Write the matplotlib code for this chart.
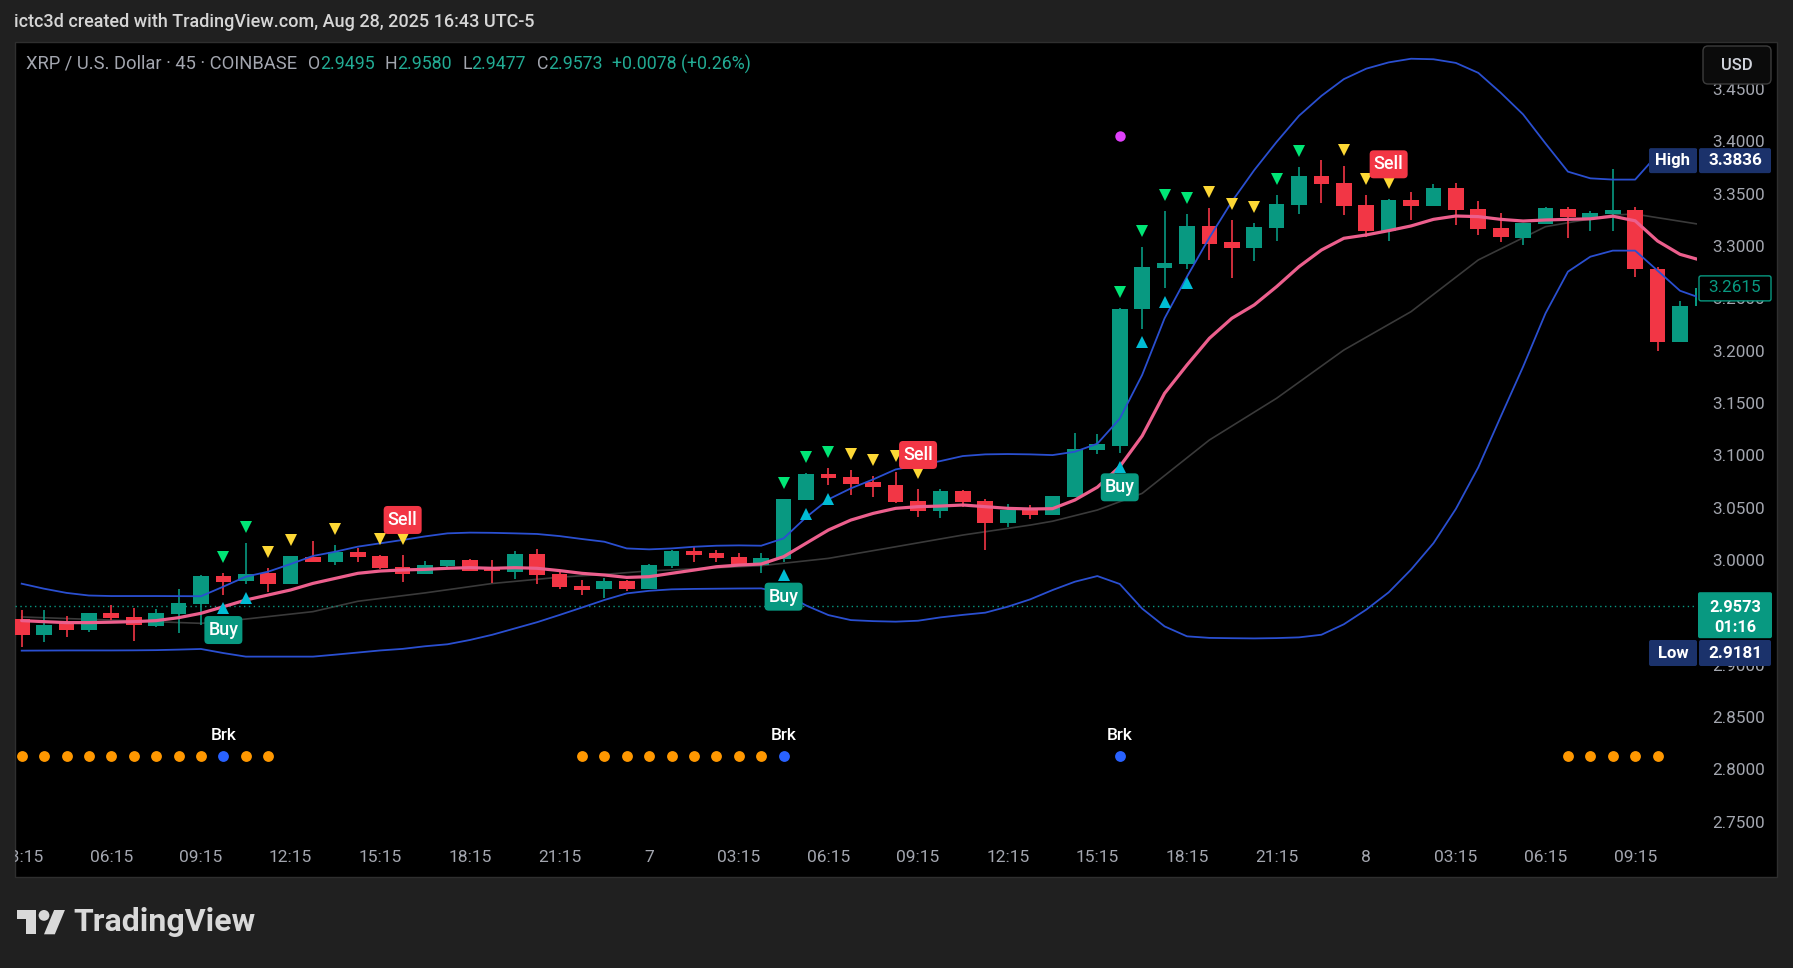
import matplotlib
matplotlib.use("Agg")
import matplotlib.pyplot as plt
from matplotlib.patches import Rectangle, FancyBboxPatch, Polygon, Ellipse
from matplotlib.transforms import IdentityTransform, blended_transform_factory
import numpy as np

# ---------------- data ----------------
opens = [2.9447, 2.9301, 2.9425, 2.9349, 2.9508, 2.9470, 2.9387, 2.9502, 2.9597, 2.9862,
         2.9817, 2.9890, 2.9788, 3.0043, 2.9998, 3.0091, 3.0053, 2.9948, 2.9884, 2.9957,
         3.0014, 2.9941, 2.9903, 3.0072, 2.9881, 2.9766, 2.9734, 2.9814, 2.9740, 2.9960,
         3.0100, 3.0081, 3.0043, 2.9967, 3.0024, 3.0591, 3.0836, 3.0807, 3.0763, 3.0731,
         3.0578, 3.0485, 3.0674, 3.0578, 3.0371, 3.0505, 3.0447, 3.0620, 3.1065, 3.1107,
         3.2413, 3.2808, 3.2843, 3.3207, 3.3054, 3.3000, 3.3191, 3.3407, 3.3684, 3.3618,
         3.3407, 3.3162, 3.3455, 3.3401, 3.3570, 3.3369, 3.3187, 3.3092, 3.3226, 3.3369,
         3.3283, 3.3321, 3.3359, 3.2798, 3.2102, 3.2439]
highs = [2.9537, 2.9537, 2.9479, 2.9511, 2.9581, 2.9559, 2.9546, 2.9737, 2.9871, 2.9890,
         3.0177, 2.9938, 3.0056, 3.0196, 3.0158, 3.0126, 3.0062, 3.0062, 3.0008, 3.0014,
         3.0020, 3.0014, 3.0100, 3.0120, 2.9903, 2.9823, 2.9845, 2.9823, 2.9976, 3.0110,
         3.0151, 3.0110, 3.0078, 3.0081, 3.0597, 3.0849, 3.0897, 3.0874, 3.0817, 3.0855,
         3.0693, 3.0690, 3.0683, 3.0597, 3.0546, 3.0540, 3.0626, 3.1231, 3.1221, 3.2420,
         3.3006, 3.3350, 3.3321, 3.3382, 3.3264, 3.3235, 3.3503, 3.3774, 3.3836, 3.3780,
         3.3503, 3.3465, 3.3531, 3.3608, 3.3618, 3.3445, 3.3331, 3.3238, 3.3388, 3.3388,
         3.3350, 3.3755, 3.3388, 3.2813, 3.2491, 3.2650]
lows = [2.9181, 2.9234, 2.9282, 2.9330, 2.9441, 2.9244, 2.9377, 2.9320, 2.9396, 2.9683,
        2.9788, 2.9709, 2.9785, 2.9995, 2.9967, 2.9998, 2.9925, 2.9807, 2.9881, 2.9951,
        2.9910, 2.9798, 2.9830, 2.9788, 2.9740, 2.9683, 2.9648, 2.9721, 2.9734, 2.9941,
        2.9998, 2.9998, 2.9967, 2.9893, 2.9998, 3.0588, 3.0731, 3.0635, 3.0616, 3.0562,
        3.0428, 3.0419, 3.0524, 3.0113, 3.0333, 3.0406, 3.0444, 3.0613, 3.1027, 3.1040,
        3.2222, 3.2614, 3.2796, 3.2885, 3.2713, 3.2875, 3.3066, 3.3324, 3.3430, 3.3312,
        3.3098, 3.3066, 3.3264, 3.3398, 3.3216, 3.3121, 3.3054, 3.3025, 3.3222, 3.3092,
        3.3159, 3.3159, 3.2722, 3.2015, 3.2102, 3.2430]
closes = [2.9301, 2.9393, 2.9349, 2.9508, 2.9463, 2.9393, 2.9508, 2.9603, 2.9862, 2.9807,
          2.9877, 2.9788, 3.0053, 2.9998, 3.0091, 3.0046, 2.9941, 2.9884, 2.9967, 3.0014,
          2.9913, 2.9913, 3.0072, 2.9871, 2.9760, 2.9731, 2.9814, 2.9740, 2.9967, 3.0100,
          3.0065, 3.0037, 2.9976, 3.0033, 3.0597, 3.0836, 3.0798, 3.0744, 3.0712, 3.0572,
          3.0485, 3.0674, 3.0572, 3.0371, 3.0495, 3.0447, 3.0626, 3.1072, 3.1123, 3.2413,
          3.2815, 3.2853, 3.3207, 3.3038, 3.3000, 3.3197, 3.3417, 3.3684, 3.3611, 3.3401,
          3.3162, 3.3455, 3.3401, 3.3570, 3.3359, 3.3178, 3.3101, 3.3235, 3.3379, 3.3293,
          3.3331, 3.3359, 3.2796, 3.2102, 3.2439, 3.2615]

fast_ma = [2.9435, 2.9425, 2.9416, 2.9416, 2.9420, 2.9425, 2.9435, 2.9463, 2.9505, 2.9568,
           2.9632, 2.9680, 2.9728, 2.9791, 2.9839, 2.9887, 2.9909, 2.9919, 2.9925, 2.9935,
           2.9941, 2.9935, 2.9941, 2.9935, 2.9913, 2.9887, 2.9871, 2.9848, 2.9855, 2.9887,
           2.9918, 2.9950, 2.9966, 2.9976, 3.0046, 3.0174, 3.0301, 3.0396, 3.0460, 3.0508,
           3.0524, 3.0530, 3.0540, 3.0524, 3.0508, 3.0502, 3.0505, 3.0588, 3.0710, 3.0907,
           3.1200, 3.1607, 3.1878, 3.2133, 3.2324, 3.2452, 3.2627, 3.2818, 3.2977, 3.3089,
           3.3121, 3.3162, 3.3207, 3.3270, 3.3302, 3.3296, 3.3270, 3.3254, 3.3264, 3.3270,
           3.3275, 3.3300, 3.3256, 3.3063, 3.2936, 3.2875]

slow_ma_idx = [0, 4, 8, 10, 13, 15, 18, 21, 24, 26, 28, 33, 36, 39, 42, 45, 46, 48, 50,
               53, 56, 59, 62, 65, 68, 71, 72, 75]
slow_ma = [2.9470, 2.9440, 2.9409, 2.9450, 2.9521, 2.9620, 2.9700, 2.9790, 2.9850, 2.9877,
           2.9910, 2.9960, 3.0030, 3.0141, 3.0253, 3.0348, 3.0385, 3.0492, 3.0651,
           3.1161, 3.1560, 3.2021, 3.2388, 3.2882, 3.3200, 3.3312, 3.3320, 3.3218]

bb_upper = [2.9788, 2.9740, 2.9700, 2.9675, 2.9670, 2.9670, 2.9670, 2.9669, 2.9668, 2.9760,
            2.9855, 2.9903, 2.9976, 3.0053, 3.0094, 3.0142, 3.0174, 3.0206, 3.0240, 3.0269,
            3.0276, 3.0274, 3.0269, 3.0263, 3.0243, 3.0215, 3.0189, 3.0125, 3.0116, 3.0125,
            3.0141, 3.0151, 3.0154, 3.0151, 3.0221, 3.0422, 3.0594, 3.0699, 3.0785, 3.0880,
            3.0919, 3.0960, 3.1008, 3.1024, 3.1027, 3.1024, 3.1017, 3.1049, 3.1126, 3.1365,
            3.1783, 3.2324, 3.2722, 3.3095, 3.3439, 3.3740, 3.4010, 3.4260, 3.4450, 3.4610,
            3.4710, 3.4770, 3.4805, 3.4800, 3.4765, 3.4670, 3.4480, 3.4273, 3.3995, 3.3726,
            3.3662, 3.3650, 3.3650, 3.3890, 3.3920, 3.3940]
bb_lower = [2.9148, 2.9149, 2.9150, 2.9150, 2.9150, 2.9151, 2.9153, 2.9158, 2.9164, 2.9125,
            2.9091, 2.9091, 2.9091, 2.9091, 2.9110, 2.9130, 2.9150, 2.9165, 2.9190, 2.9209,
            2.9250, 2.9300, 2.9360, 2.9420, 2.9489, 2.9560, 2.9632, 2.9695, 2.9720, 2.9734,
            2.9738, 2.9740, 2.9742, 2.9743, 2.9700, 2.9580, 2.9488, 2.9440, 2.9430, 2.9425,
            2.9434, 2.9466, 2.9490, 2.9511, 2.9568, 2.9638, 2.9727, 2.9807, 2.9861, 2.9785,
            2.9550, 2.9380, 2.9285, 2.9270, 2.9267, 2.9265, 2.9268, 2.9275, 2.9300, 2.9400,
            2.9540, 2.9705, 2.9923, 3.0175, 3.0503, 3.0900, 3.1384, 3.1862, 3.2372, 3.2770,
            3.2913, 3.2971, 3.2971, 3.2780, 3.2588, 3.2512]

green_dn_idx = [9, 10, 34, 35, 36, 49, 50, 51, 52, 56, 57]
green_dn_px = [3.0040, 3.0327, 3.0753, 3.0995, 3.1049, 3.2573, 3.3159, 3.3503, 3.3471, 3.3656, 3.3923]
yellow_dn_idx = [11, 12, 14, 16, 17, 37, 38, 39, 40, 53, 54, 55, 59, 60, 61]
yellow_dn_px = [3.0094, 3.0206, 3.0307, 3.0215, 3.0215, 3.1027, 3.0970, 3.1008, 3.0842,
                3.3535, 3.3417, 3.3391, 3.3933, 3.3653, 3.3621]
cyan_up_idx = [9, 10, 34, 35, 36, 49, 50, 51, 52]
cyan_up_px = [2.9553, 2.9648, 2.9871, 3.0450, 3.0597, 3.0906, 3.2101, 3.2483, 3.2659]
buy_idx = [9, 34, 49]
buy_px = [2.9345, 2.9664, 3.0709]
sell_idx = [17, 40, 61]
sell_px = [3.0397, 3.1018, 3.3796]
purple_idx = [49]
purple_px = [3.4066]
orange_dot_idx = [0, 1, 2, 3, 4, 5, 6, 7, 8, 10, 11, 25, 26, 27, 28, 29, 30, 31, 32, 33,
                  69, 70, 71, 72, 73]
blue_dot_idx = [9, 34, 49]
dot_level = 2.8142
brk_level = 2.8339

time_tick_idx = [0, 4, 8, 12, 16, 20, 24, 28, 32, 36, 40, 44, 48, 52, 56, 60, 64, 68, 72]
time_tick_lbl = ["03:15", "06:15", "09:15", "12:15", "15:15", "18:15", "21:15", "7",
                 "03:15", "06:15", "09:15", "12:15", "15:15", "18:15", "21:15", "8",
                 "03:15", "06:15", "09:15"]
price_ticks = [2.75, 2.80, 2.85, 2.90, 2.95, 3.00, 3.05, 3.10, 3.15, 3.20, 3.25, 3.30,
               3.35, 3.40, 3.45]

last_price = 2.9573
countdown = "01:16"
high_price = 3.3836
low_price = 2.9181
marker_price = 3.2615

header = "ictc3d created with TradingView.com, Aug 28, 2025 16:43 UTC-5"
symbol_text = "XRP / U.S. Dollar \u00b7 45 \u00b7 COINBASE"
ohlc_letters = ["O", "H", "L", "C"]
ohlc_values = ["2.9495", "2.9580", "2.9477", "2.9573"]
change_text = "+0.0078 (+0.26%)"

# ---------------- style ----------------
W, H, DPI = 1793, 968, 100
BG = "#202020"
UP = "#089981"
DN = "#f23645"
PINK = "#ec5f8d"
BLUE = "#2a4fd0"
GRAY = "#3a3a3a"
AXTXT = "#a3a6af"
NAVY = "#1b326b"

plt.rcParams["font.family"] = ["Roboto", "DejaVu Sans"]

fig = plt.figure(figsize=(W / DPI, H / DPI), dpi=DPI)
fig.patch.set_facecolor(BG)
ID = IdentityTransform()


def P(x, y):
    return (x, H - y)


# chart frame
fig.add_artist(Rectangle(P(15, 877), 1777 - 15, 877 - 42, transform=ID,
                         facecolor="black", edgecolor="#2f2f2f", lw=1.0, zorder=-1))

ax = fig.add_axes([15 / W, (H - 877) / H, (1697 - 15) / W, (877 - 42) / H])
ax.set_axis_off()
ax.set_xlim(-0.299, 74.76)
ax.set_ylim(2.69848, 3.49649)

x = np.arange(len(opens))
o = np.array(opens); c = np.array(closes); hi = np.array(highs); lo = np.array(lows)
cols = np.where(c >= o, UP, DN)

ax.plot(slow_ma_idx, slow_ma, color=GRAY, lw=1.2, zorder=1)
ax.axhline(last_price, color=UP, lw=1.0, ls=(0, (1, 2.5)), zorder=1.5)
ax.vlines(x, lo, hi, colors=cols, lw=1.2, zorder=2)
ax.bar(x, np.maximum(np.abs(c - o), 0.0009), bottom=np.minimum(o, c), width=0.7,
       color=cols, linewidth=0, zorder=3)
ax.plot(x, bb_upper, color=BLUE, lw=1.3, zorder=4)
ax.plot(x, bb_lower, color=BLUE, lw=1.3, zorder=4)
ax.plot(x, fast_ma, color=PINK, lw=2.3, zorder=5, solid_capstyle="round")

ax.plot(green_dn_idx, green_dn_px, "v", color="#00e676", ms=8.3, mew=0, zorder=6)
ax.plot(yellow_dn_idx, yellow_dn_px, "v", color="#fdd835", ms=8.3, mew=0, zorder=6)
ax.plot(cyan_up_idx, cyan_up_px, "^", color="#00bcd4", ms=8.5, mew=0, zorder=6)
ax.plot(purple_idx, purple_px, "o", color="#e040fb", ms=7.5, mew=0, zorder=6)
ax.plot(orange_dot_idx, [dot_level] * len(orange_dot_idx), "o", color="#ff9800", ms=7.8, mew=0, zorder=6)
ax.plot(blue_dot_idx, [dot_level] * len(blue_dot_idx), "o", color="#2962ff", ms=7.8, mew=0, zorder=6)
for i in blue_dot_idx:
    ax.text(i, brk_level, "Brk", color="white", fontsize=12.5, fontweight="medium",
            ha="center", va="center", zorder=7)

# time axis labels (inside frame, clipped to pane)
tx = blended_transform_factory(ax.transData, ID)
for i, lbl in zip(time_tick_idx, time_tick_lbl):
    ax.text(i, H - 858, lbl, transform=tx, color=AXTXT, fontsize=12.5, ha="center",
            va="center", clip_on=True)

# current price box position (the tick label under it is fully hidden, as in the reference)
Yl = H - ax.transData.transform((0, last_price))[1]

# price axis labels
ty = blended_transform_factory(ID, ax.transData)
for p in price_ticks:
    yp = H - ax.transData.transform((0, p))[1]
    if Yl - 14 <= yp <= Yl + 32:
        continue
    fig.text(1712, p, f"{p:.4f}", transform=ty, color=AXTXT, fontsize=12.3, ha="left",
             va="center", zorder=5)


def box(x0, y0, w, h, fc, ec="none", lw=0, r=3, z=7):
    fig.add_artist(FancyBboxPatch((x0, H - y0 - h), w, h, boxstyle=f"round,pad=0,rounding_size={r}",
                                  transform=ID, fc=fc, ec=ec, lw=lw, zorder=z))


def label(i, p, s, fc):
    X, Y = ax.transData.transform((i, p))
    fig.add_artist(FancyBboxPatch((X - 19, Y - 14), 38, 28, boxstyle="round,pad=0,rounding_size=4",
                                  transform=ID, fc=fc, ec="none", zorder=7))
    fig.text(X, Y, s, transform=ID, color="white", fontsize=13, fontweight="medium",
             ha="center", va="center", zorder=8)


for i, p in zip(buy_idx, buy_px):
    label(i, p, "Buy", UP)
for i, p in zip(sell_idx, sell_px):
    label(i, p, "Sell", DN)

# right-side price boxes
Yh = H - ax.transData.transform((0, high_price))[1]
box(1649, Yh - 12, 48, 25, NAVY, r=2)
box(1699, Yh - 12, 72, 25, NAVY, r=2)
fig.text(1673, H - Yh, "High", transform=ID, color="white", fontsize=12, ha="center", va="center",
         fontweight="bold", zorder=8)
fig.text(1735, H - Yh, f"{high_price:.4f}", transform=ID, color="white", fontsize=12.3, ha="center",
         va="center", fontweight="bold", zorder=8)

box(1649, 640, 48, 26, NAVY, r=2)
box(1699, 640, 72, 26, NAVY, r=2)
fig.text(1673, H - 653, "Low", transform=ID, color="white", fontsize=12, ha="center", va="center",
         fontweight="bold", zorder=8)
fig.text(1735, H - 653, f"{low_price:.4f}", transform=ID, color="white", fontsize=12.3, ha="center",
         va="center", fontweight="bold", zorder=8)

Ym = H - ax.transData.transform((0, marker_price))[1]
box(1699, Ym - 12, 72, 25, "black", ec=UP, lw=1.0, r=2)
fig.text(1735, H - Ym, f"{marker_price:.4f}", transform=ID, color=UP, fontsize=12.3, ha="center",
         va="center", zorder=8)

box(1698, Yl - 14, 74, 46, UP, r=2)
fig.text(1735, H - Yl - 1, f"{last_price:.4f}", transform=ID, color="white", fontsize=11.8, ha="center",
         va="center", fontweight="bold", zorder=8)
fig.text(1735, H - Yl - 21, countdown, transform=ID, color="white", fontsize=11.8, ha="center",
         va="center", fontweight="bold", zorder=8)

# USD button
box(1703, 46, 68, 38, "#0b0b0b", ec="#3c3c3c", lw=1.0, r=5, z=9)
fig.text(1737, H - 65, "USD", transform=ID, color="#d1d4dc", fontsize=12, ha="center", va="center",
         fontweight="medium", zorder=10)

# header texts
fig.text(14, H - 22, header, transform=ID, color="#d6d6d6", fontsize=13, ha="left", va="center",
         fontweight="medium")
renderer = fig.canvas.get_renderer()


def put(xp, s, color, size):
    t = fig.text(xp, H - 64, s, transform=ID, color=color, fontsize=size, ha="left", va="center")
    return xp + t.get_window_extent(renderer=renderer).width


put(26, symbol_text, AXTXT, 13.2)
for xs, letter, val in zip([308, 385, 462, 537], ohlc_letters, ohlc_values):
    nx = put(xs, letter, AXTXT, 12.8)
    put(nx, val, "#22ab94", 12.8)
put(612, change_text, "#22ab94", 12.8)

# TradingView logo
s = 1.35
ox, oy = 17, 904.6
LOGO = "#d9d9d9"
T_shape = [(0, 4), (14, 4), (14, 22), (7, 22), (7, 11), (0, 11)]
fig.add_artist(Polygon([P(ox + a * s, oy + b * s) for a, b in T_shape], closed=True,
                       transform=ID, fc=LOGO, ec="none"))
fig.add_artist(Ellipse(P(ox + 20 * s, oy + 8 * s), 8 * s, 8 * s, transform=ID, fc=LOGO, ec="none"))
slash = [(28, 22), (20, 22), (27.5, 4), (35.5, 4)]
fig.add_artist(Polygon([P(ox + a * s, oy + b * s) for a, b in slash], closed=True,
                       transform=ID, fc=LOGO, ec="none"))
fig.text(73, H - 922, "TradingView", transform=ID, color=LOGO, fontsize=23, ha="left", va="center",
         fontweight="bold")

fig.savefig("out.png", dpi=DPI, facecolor=fig.get_facecolor())
